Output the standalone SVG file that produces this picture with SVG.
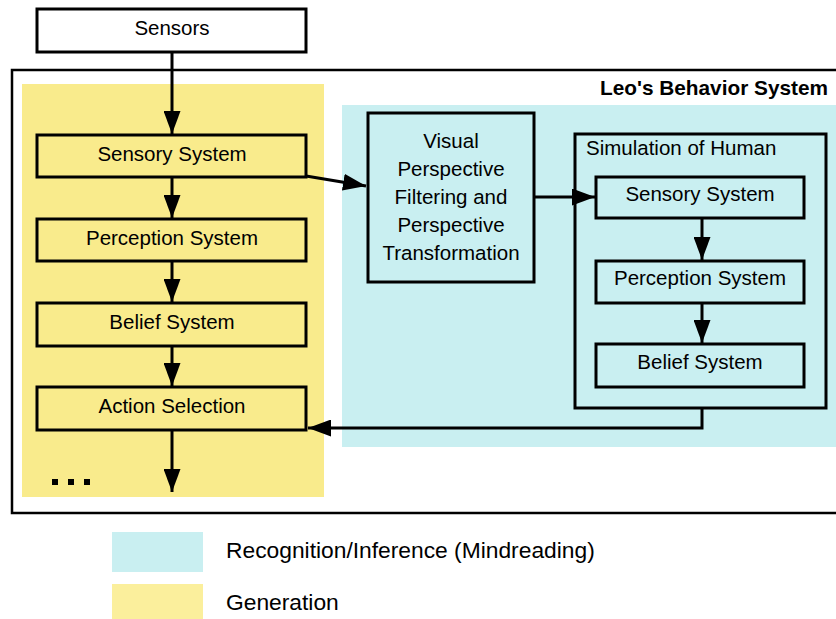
<svg xmlns="http://www.w3.org/2000/svg" width="836" height="619" viewBox="0 0 836 619">
<defs>
<style>
.box{fill:none;stroke:#000;stroke-width:3}
.t{font-family:"Liberation Sans",Arial,sans-serif;font-size:20.5px;fill:#000;text-anchor:middle}
.c{fill:none;stroke:#000;stroke-width:3}
.lg{font-family:"Liberation Sans",Arial,sans-serif;font-size:22.8px;fill:#000}
</style>
<marker id="ah" markerUnits="userSpaceOnUse" markerWidth="23" markerHeight="17" refX="23" refY="8.5" orient="auto">
<path d="M0,0 L23,8.5 L0,17 z" fill="#000"/>
</marker>
</defs>
<rect width="836" height="619" fill="#fff"/>
<g id="regions">
<rect x="22" y="84" width="302" height="413" fill="#f9eb8c"/>
<rect x="342" y="105" width="494" height="342" fill="#c9eff1"/>
</g>
<g id="frame">
<rect x="12" y="70" width="830" height="443" fill="none" stroke="#000" stroke-width="2.5"/>
<text x="828" y="95" font-family="'Liberation Sans',Arial,sans-serif" font-size="20.8" font-weight="bold" text-anchor="end">Leo's Behavior System</text>
</g>
<g id="sensors"><rect class="box" x="37" y="9" width="269" height="43" style="fill:#fff"/><text class="t" x="172" y="35">Sensors</text></g>
<g id="sensory"><rect class="box" x="37" y="135" width="269" height="42"/><text class="t" x="172" y="161">Sensory System</text></g>
<g id="perception"><rect class="box" x="37" y="219" width="269" height="42"/><text class="t" x="172" y="245">Perception System</text></g>
<g id="belief"><rect class="box" x="37" y="303" width="269" height="43"/><text class="t" x="172" y="329">Belief System</text></g>
<g id="action"><rect class="box" x="37" y="387" width="269" height="43"/><text class="t" x="172" y="413">Action Selection</text></g>
<g id="dots"><rect x="52" y="479" width="6" height="6"/><rect x="68" y="479" width="6" height="6"/><rect x="84" y="479" width="6" height="6"/></g>
<g id="visual"><rect class="box" x="368" y="113" width="166" height="169"/>
<text class="t" x="451" y="148">Visual</text>
<text class="t" x="451" y="176">Perspective</text>
<text class="t" x="451" y="204">Filtering and</text>
<text class="t" x="451" y="232">Perspective</text>
<text class="t" x="451" y="260">Transformation</text></g>
<g id="simulation"><rect class="box" x="575" y="134" width="251" height="274"/><text class="t" x="586" y="155" style="text-anchor:start">Simulation of Human</text></g>
<g id="sim-sensory"><rect class="box" x="596" y="177" width="208" height="41"/><text class="t" x="700" y="201">Sensory System</text></g>
<g id="sim-perception"><rect class="box" x="596" y="261" width="208" height="42"/><text class="t" x="700" y="285">Perception System</text></g>
<g id="sim-belief"><rect class="box" x="596" y="344" width="208" height="43"/><text class="t" x="700" y="369">Belief System</text></g>
<g id="connectors">
<line class="c" x1="172" y1="52" x2="172" y2="134" marker-end="url(#ah)"/>
<line class="c" x1="172" y1="177" x2="172" y2="218" marker-end="url(#ah)"/>
<line class="c" x1="172" y1="261" x2="172" y2="302" marker-end="url(#ah)"/>
<line class="c" x1="172" y1="346" x2="172" y2="386" marker-end="url(#ah)"/>
<line class="c" x1="172" y1="430" x2="172" y2="492" marker-end="url(#ah)"/>
<line class="c" x1="306" y1="176" x2="366" y2="186" marker-end="url(#ah)"/>
<line class="c" x1="534" y1="197" x2="595" y2="197" marker-end="url(#ah)"/>
<line class="c" x1="702" y1="218" x2="702" y2="260" marker-end="url(#ah)"/>
<line class="c" x1="702" y1="303" x2="702" y2="343" marker-end="url(#ah)"/>
<polyline class="c" points="702,408 702,428 308,428" marker-end="url(#ah)"/>
</g>
<g id="legend">
<rect x="112" y="532" width="91" height="40" fill="#c9eff1"/>
<text class="lg" x="226" y="558">Recognition/Inference (Mindreading)</text>
<rect x="112" y="584" width="91" height="36" fill="#fbef9c"/>
<text class="lg" x="226" y="610">Generation</text>
</g>
</svg>
